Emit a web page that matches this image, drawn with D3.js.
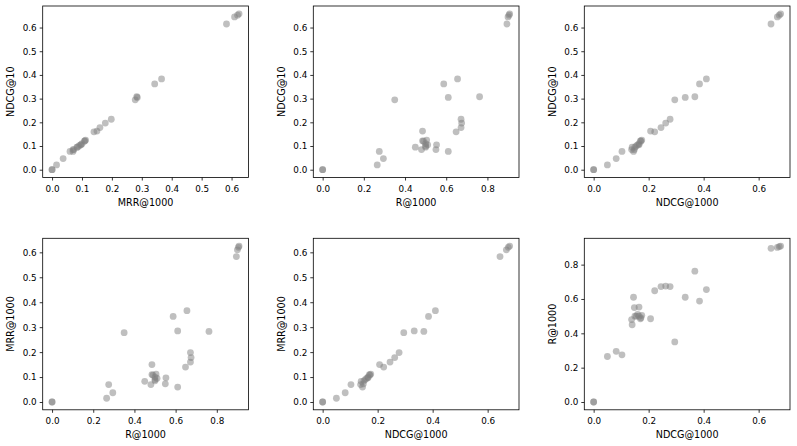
<!DOCTYPE html>
<html>
<head>
<meta charset="utf-8">
<script src="https://cdn.jsdelivr.net/npm/d3@7"></script>
<style>
  html, body { margin: 0; padding: 0; background: #fff; }
  svg { display: block; font-family: "DejaVu Sans", sans-serif; }
</style>
</head>
<body>
<svg id="chart" width="797" height="446"></svg>
<script>
// ---- data: one entry per system, four metrics ----
const recall   = [0, 0, 0.265, 0.295, 0.275, 0.610, 0.450, 0.480, 0.550, 0.553, 0.485, 0.490, 0.500, 0.500, 0.505, 0.510, 0.500, 0.485, 0.648, 0.672, 0.675, 0.672, 0.350, 0.610, 0.762, 0.588, 0.655, 0.895, 0.900, 0.905, 0.908];
const mrr      = [0, 0, 0.015, 0.037, 0.070, 0.060, 0.083, 0.070, 0.073, 0.097, 0.110, 0.108, 0.085, 0.090, 0.112, 0.095, 0.100, 0.150, 0.140, 0.160, 0.178, 0.198, 0.278, 0.285, 0.283, 0.343, 0.366, 0.583, 0.610, 0.620, 0.625];
const ndcg10   = [0, 0, 0.020, 0.047, 0.077, 0.077, 0.095, 0.085, 0.085, 0.105, 0.122, 0.120, 0.095, 0.100, 0.125, 0.105, 0.110, 0.163, 0.160, 0.178, 0.197, 0.213, 0.295, 0.305, 0.308, 0.362, 0.383, 0.615, 0.645, 0.652, 0.658];
const ndcg1000 = [0, 0, 0.050, 0.082, 0.103, 0.145, 0.140, 0.138, 0.148, 0.165, 0.170, 0.172, 0.150, 0.155, 0.175, 0.160, 0.165, 0.207, 0.222, 0.245, 0.262, 0.278, 0.295, 0.333, 0.368, 0.385, 0.410, 0.645, 0.668, 0.675, 0.680];

const metricLabels = ["MRR@1000", "R@1000", "NDCG@10", "NDCG@1000"];
const ticksTenth = [0.0, 0.1, 0.2, 0.3, 0.4, 0.5, 0.6];
const ticksFifthR = [0.0, 0.2, 0.4, 0.6, 0.8];
const ticksFifthN = [0.0, 0.2, 0.4, 0.6];

const metrics = {
  "MRR@1000": mrr,
  "R@1000": recall,
  "NDCG@10": ndcg10,
  "NDCG@1000": ndcg1000
};

// panels: [x metric, y metric, x ticks, y ticks]
const panels = [
  ["MRR@1000",  "NDCG@10",  ticksTenth,  ticksTenth],
  ["R@1000",    "NDCG@10",  ticksFifthR, ticksTenth],
  ["NDCG@1000", "NDCG@10",  ticksFifthN, ticksTenth],
  ["R@1000",    "MRR@1000", ticksFifthR, ticksTenth],
  ["NDCG@1000", "MRR@1000", ticksFifthN, ticksTenth],
  ["NDCG@1000", "R@1000",   ticksFifthN, ticksFifthR]
];

// ---- layout ----
const colLeft = [42.7, 313.3, 584.3];
const rowTop = [6, 238.3];
const pw = 205.7, ph = 171.5;
const tickFont = 8.8, labelFont = 9.6;

const svg = d3.select("#chart");

function paddedDomain(vals) {
  const [lo, hi] = d3.extent(vals);
  const p = (hi - lo) * 0.05;
  return [lo - p, hi + p];
}

panels.forEach((p, i) => {
  const [xm, ym, xt, yt] = p;
  const xs = metrics[xm], ys = metrics[ym];
  const left = colLeft[i % 3], top = rowTop[Math.floor(i / 3)];
  const g = svg.append("g").attr("transform", `translate(${left},${top})`);

  const x = d3.scaleLinear().domain(paddedDomain(xs)).range([0, pw]);
  const y = d3.scaleLinear().domain(paddedDomain(ys)).range([ph, 0]);

  // points
  g.append("g").selectAll("circle")
    .data(xs.map((v, k) => [v, ys[k]]))
    .join("circle")
    .attr("cx", d => x(d[0]))
    .attr("cy", d => y(d[1]))
    .attr("r", 3.4)
    .attr("fill", "#808080")
    .attr("fill-opacity", 0.5);

  // axes
  const xAxis = d3.axisBottom(x).tickValues(xt).tickFormat(d3.format(".1f")).tickSize(3).tickPadding(3);
  const yAxis = d3.axisLeft(y).tickValues(yt).tickFormat(d3.format(".1f")).tickSize(3).tickPadding(3);

  const gx = g.append("g").attr("transform", `translate(0,${ph})`).call(xAxis);
  const gy = g.append("g").call(yAxis);
  [gx, gy].forEach(a => {
    a.select(".domain").remove();
    a.selectAll(".tick line").attr("stroke", "#000").attr("stroke-width", 0.8);
    a.selectAll(".tick text").attr("fill", "#000").style("font-size", tickFont + "px")
      .style("font-family", "DejaVu Sans, sans-serif");
  });
  gx.selectAll(".tick text").attr("dy", null).attr("y", 14.5 - 0).attr("dominant-baseline", "auto");
  gx.selectAll(".tick text").attr("y", 14.5);
  gy.selectAll(".tick text").attr("dy", "0.33em").attr("x", -6);

  // frame
  g.append("rect")
    .attr("x", 0).attr("y", 0).attr("width", pw).attr("height", ph)
    .attr("fill", "none").attr("stroke", "#000").attr("stroke-width", 0.8);

  // labels
  g.append("text")
    .attr("x", pw / 2).attr("y", ph + 28)
    .attr("text-anchor", "middle")
    .style("font-size", labelFont + "px")
    .text(xm);
  g.append("text")
    .attr("transform", `translate(-28.5,${ph / 2}) rotate(-90)`)
    .attr("text-anchor", "middle")
    .style("font-size", labelFont + "px")
    .text(ym);
});
</script>
</body>
</html>
